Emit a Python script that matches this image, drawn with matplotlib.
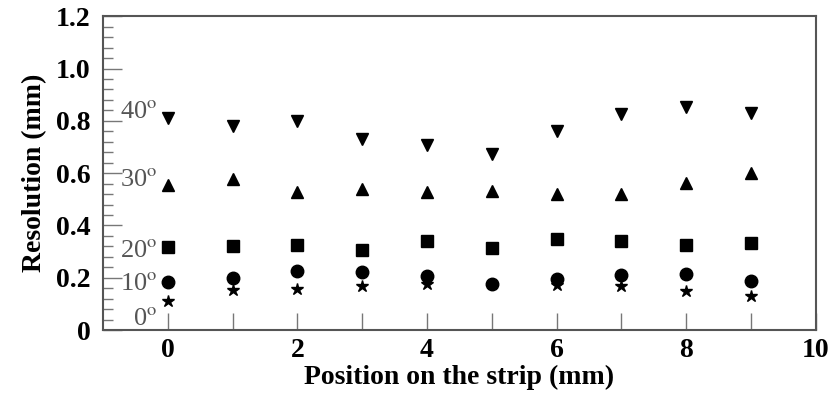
import matplotlib
matplotlib.use("Agg")
import matplotlib.pyplot as plt
from matplotlib.ticker import FixedLocator, FuncFormatter, MultipleLocator

plt.rcParams["font.family"] = "Liberation Serif"
plt.rcParams["mathtext.fontset"] = "stix"

# 数据
position = [0, 1, 2, 3, 4, 5, 6, 7, 8, 9]
res_40 = [0.812, 0.779, 0.800, 0.732, 0.706, 0.674, 0.761, 0.827, 0.852, 0.829]
res_30 = [0.553, 0.579, 0.528, 0.541, 0.528, 0.532, 0.522, 0.519, 0.562, 0.600]
res_20 = [0.316, 0.322, 0.327, 0.308, 0.340, 0.312, 0.350, 0.341, 0.324, 0.331]
res_10 = [0.182, 0.201, 0.226, 0.221, 0.206, 0.178, 0.197, 0.209, 0.214, 0.188]
res_0 = [0.111, 0.153, 0.158, 0.169, 0.178, 0.178, 0.172, 0.168, 0.149, 0.132]

angle_labels = ["0", "10", "20", "30", "40"]
label_x = [-0.54, -0.74, -0.74, -0.74, -0.74]
label_y = [0.02, 0.153, 0.28, 0.55, 0.812]

fig = plt.figure(figsize=(8.3, 4.05), dpi=100)
ax = fig.add_axes([0.124, 0.185, 0.859, 0.775])

ax.plot(position, res_40, linestyle="none", marker="v", color="black", markersize=9)
ax.plot(position, res_30, linestyle="none", marker="^", color="black", markersize=9)
ax.plot(position, res_20, linestyle="none", marker="s", color="black", markersize=9)
ax.plot(position, res_10, linestyle="none", marker="o", color="black", markersize=9)
ax.plot(position, res_0, linestyle="none", marker="*", color="black", markersize=9)

for lab, xx, yy in zip(angle_labels, label_x, label_y):
    ax.text(xx, yy, lab + r"$^{\rm o}$", fontsize=19, color="#555555",
            ha="left", va="baseline")

ax.set_xlim(-1, 10)
ax.set_ylim(0, 1.2)

ax.xaxis.set_major_locator(MultipleLocator(2))
ax.xaxis.set_minor_locator(FixedLocator([1, 3, 5, 7, 9]))
ax.yaxis.set_major_locator(MultipleLocator(0.2))
ax.yaxis.set_minor_locator(MultipleLocator(0.04))
ax.yaxis.set_major_formatter(FuncFormatter(lambda v, p: "0" if abs(v) < 1e-9 else "%.1f" % v))

ax.tick_params(axis="x", which="both", direction="in", length=12, width=1,
               color="#777777", top=False, labelsize=20, pad=6)
ax.tick_params(axis="y", which="major", direction="in", length=14, width=1,
               color="#777777", right=False, labelsize=20, pad=9)
ax.tick_params(axis="y", which="minor", direction="in", length=7, width=1,
               color="#777777", right=False)
for lab in ax.get_xticklabels() + ax.get_yticklabels():
    lab.set_fontweight("bold")

for sp in ax.spines.values():
    sp.set_color("#555555")
    sp.set_linewidth(1.5)

ax.set_xlabel("Position on the strip (mm)", fontsize=20, fontweight="bold", labelpad=1)
ax.set_ylabel("Resolution (mm)", fontsize=20, fontweight="bold", labelpad=6)

fig.savefig("out.png", dpi=100)
